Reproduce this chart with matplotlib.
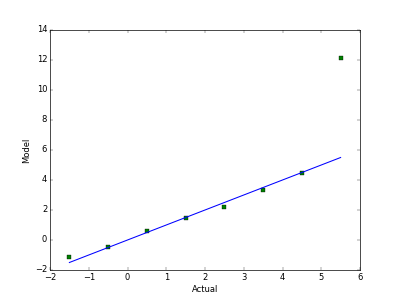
import matplotlib
matplotlib.use("Agg")
import matplotlib.pyplot as plt
import numpy as np

# actual vs model values
actual = [-1.5, -0.5, 0.5, 1.5, 2.5, 3.5, 4.5, 5.5]
model = [-1.13, -0.45, 0.57, 1.47, 2.22, 3.36, 4.47, 12.11]
# fitted line end points (y = x)
line_x = [-1.5, 5.5]
line_y = [-1.5, 5.5]

plt.style.use('classic')
fig = plt.figure(figsize=(8, 6), dpi=50)
ax = fig.add_subplot(111)
ax.plot(actual, model, 'gs', markersize=6)
ax.plot(line_x, line_y, 'b-', linewidth=1.5)
ax.set_xlim(-2, 6)
ax.set_ylim(-2, 14)
ax.set_xlabel('Actual')
ax.set_ylabel('Model')
fig.savefig('out.png', dpi=50, facecolor='white')
